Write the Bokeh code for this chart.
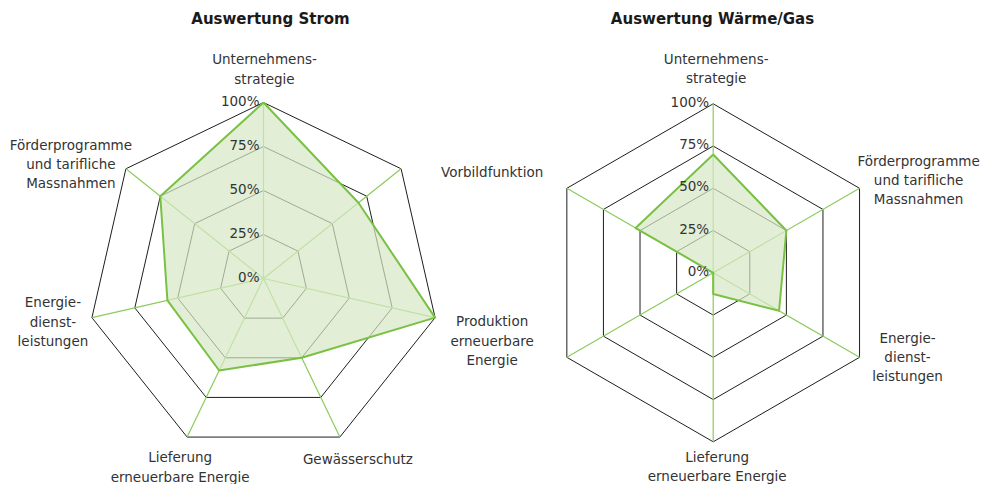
import numpy as np
from bokeh.plotting import figure
from bokeh.layouts import row
from bokeh.core.properties import value
from bokeh.embed import file_html
from bokeh.resources import INLINE

# ---------------- data ----------------
strom_title = "Auswertung Strom"
strom_categories = [
    "Unternehmens-\nstrategie",
    "Vorbildfunktion",
    "Produktion\nerneuerbare\nEnergie",
    "Gewässerschutz",
    "Lieferung\nerneuerbare Energie",
    "Energie-\ndienst-\nleistungen",
    "Förderprogramme\nund tarifliche\nMassnahmen",
]
strom_values = [1.00, 0.69, 1.00, 0.50, 0.58, 0.56, 0.75]

waerme_title = "Auswertung Wärme/Gas"
waerme_categories = [
    "Unternehmens-\nstrategie",
    "Förderprogramme\nund tarifliche\nMassnahmen",
    "Energie-\ndienst-\nleistungen",
    "Lieferung\nerneuerbare Energie",
    "",
    "",
]
waerme_values = [0.70, 0.50, 0.45, 0.125, 0.0, 0.53]

tick_values = [0.0, 0.25, 0.5, 0.75, 1.0]
tick_labels = ["0%", "25%", "50%", "75%", "100%"]

# ---------------- style ----------------
GREEN = "#79c143"
SPOKE = "#8ccb5c"
FILL = "#d6e8c4"
RING = "#1e1e1e"
TEXT = "#333333"
FONT = "DejaVu Sans"
H = 484


def radar(title, cats, vals, fig_left, width, CX, CY, R, label_offsets, title_pos):
    p = figure(
        width=width, height=H, output_backend="svg", toolbar_location=None,
        x_range=(-(CX - fig_left) / R, (fig_left + width - CX) / R),
        y_range=(-(H - CY) / R, CY / R),
        x_axis_location=None, y_axis_location=None,
        min_border=0, outline_line_color=None,
    )
    p.grid.visible = False
    n = len(cats)
    ang = np.pi / 2 - 2 * np.pi * np.arange(n) / n
    c, s = np.cos(ang), np.sin(ang)

    # rings
    for t in tick_values[1:]:
        xs = list(t * c) + [t * c[0]]
        ys = list(t * s) + [t * s[0]]
        p.line(xs, ys, line_color=RING, line_width=1)
    # spokes
    p.segment(x0=[0.0] * n, y0=[0.0] * n, x1=list(c), y1=list(s),
              line_color=SPOKE, line_width=1.2)
    # data polygon
    v = np.array(vals)
    p.patch(list(v * c), list(v * s), fill_color=FILL, fill_alpha=0.7, line_color=None)
    p.line(list(v * c) + [v[0] * c[0]], list(v * s) + [v[0] * s[0]],
           line_color=GREEN, line_width=2, line_join="round")

    # tick labels along the top axis
    p.text(x=[0.0] * len(tick_values), y=tick_values, text=tick_labels,
           x_offset=-4, y_offset=-2, text_align="right", text_baseline="middle",
           text_font=value(FONT), text_font_size="13.5px", text_color=TEXT)

    # category labels
    idx = [i for i in range(n) if cats[i]]
    p.text(x=[c[i] for i in idx], y=[s[i] for i in idx], text=[cats[i] for i in idx],
           x_offset=[label_offsets[i][0] for i in idx],
           y_offset=[label_offsets[i][1] for i in idx],
           text_align="center", text_baseline="middle", text_line_height=1.2,
           text_font=value(FONT), text_font_size="13.5px", text_color=TEXT)

    # title
    tx, ty = title_pos
    p.text(x=[(tx - CX) / R], y=[(CY - ty) / R], text=[title],
           text_align="center", text_baseline="middle",
           text_font=value(FONT), text_font_size="15px", text_font_style="bold",
           text_color="#1a1a1a")
    return p


strom_offsets = [(1, -33.5), (91, 3), (57, 23), (18, 22), (-7, 30), (-39, 4), (-55, -5)]
p1 = radar(strom_title, strom_categories, strom_values,
           fig_left=0, width=548, CX=263, CY=278, R=176,
           label_offsets=strom_offsets, title_pos=(270, 18))

waerme_offsets = [(3, -35), (59, -8), (48, 0), (4, 25), (0, 0), (0, 0)]
p2 = radar(waerme_title, waerme_categories, waerme_values,
           fig_left=548, width=436, CX=712.7, CY=272.3, R=169,
           label_offsets=waerme_offsets, title_pos=(712, 18))

layout = row(p1, p2)
open("out.html", "w").write(file_html(layout, INLINE))
